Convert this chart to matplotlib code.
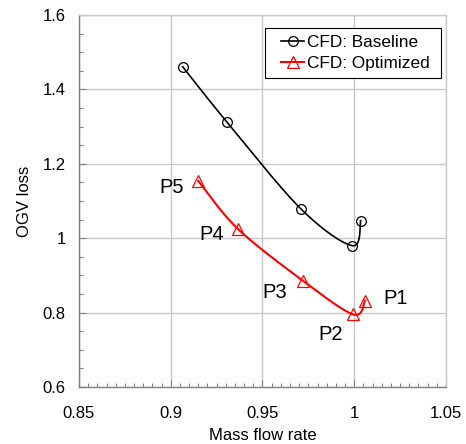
import numpy as np
import matplotlib
matplotlib.use("Agg")
import matplotlib.pyplot as plt
from matplotlib.ticker import MultipleLocator
from matplotlib.legend_handler import HandlerLine2D

plt.rcParams['font.family'] = ['Liberation Sans', 'DejaVu Sans']

base_x = [0.9065, 0.9305, 0.9711, 0.9989, 1.0035]
base_y = [1.461, 1.313, 1.078, 0.980, 1.047]
opt_x = [0.915, 0.9366, 0.9722, 0.9995, 1.0059]
opt_y = [1.154, 1.025, 0.885, 0.795, 0.832]
point_labels = ["P5", "P4", "P3", "P2", "P1"]
label_x = [0.9005, 0.9225, 0.9568, 0.9872, 1.0228]
label_y = [1.1376, 1.0086, 0.8527, 0.7398, 0.8366]


def smooth(xs, ys, n=40):
    P = np.column_stack([xs, ys]).astype(float)
    Pe = np.vstack([P[0], P, P[-1]])
    out = []
    t = np.linspace(0, 1, n)[:, None]
    for i in range(len(P) - 1):
        p0 = Pe[i + 1]
        p3 = Pe[i + 2]
        c1 = p0 + (Pe[i + 2] - Pe[i]) / 6.0
        c2 = p3 - (Pe[i + 3] - Pe[i + 1]) / 6.0
        seg = ((1 - t) ** 3) * p0 + 3 * ((1 - t) ** 2) * t * c1 + 3 * (1 - t) * t ** 2 * c2 + t ** 3 * p3
        out.append(seg)
    s = np.vstack(out)
    return s[:, 0], s[:, 1]


class OffsetHandler(HandlerLine2D):
    def __init__(self, offset, **kw):
        super().__init__(**kw)
        self.offset = offset

    def create_artists(self, legend, orig_handle, xdescent, ydescent, width, height, fontsize, trans):
        return super().create_artists(legend, orig_handle, xdescent - self.offset, ydescent,
                                      width - self.offset, height, fontsize, trans)


fig = plt.figure(figsize=(4.66, 4.44), dpi=100)
ax = fig.add_axes([0.1695, 0.1284, 0.7875, 0.8378])

sx, sy = smooth(base_x, base_y)
ax.plot(sx, sy, color='black', lw=1.2, zorder=3)
ax.plot(base_x, base_y, ls='none', marker='o', ms=7, mfc='none', mec='black', mew=0.9, zorder=4)
h1, = ax.plot([], [], color='black', lw=1.2, marker='o', ms=7, mfc='none', mec='black', mew=0.9,
              label='CFD: Baseline ')

ox, oy = smooth(opt_x, opt_y)
ax.plot(ox, oy, color='red', lw=1.5, zorder=3)
ax.plot(opt_x, opt_y, ls='none', marker='^', ms=8, mfc='none', mec='red', mew=0.9, zorder=4)
h2, = ax.plot([], [], color='red', lw=1.5, marker='^', ms=8, mfc='none', mec='red', mew=0.9,
              label='CFD: Optimized ')

for lx, ly, t in zip(label_x, label_y, point_labels):
    ax.text(lx, ly, t, fontsize=14.5, ha='center', va='center', color='black')

ax.set_xlim(0.85, 1.05)
ax.set_ylim(0.6, 1.6)
ax.xaxis.set_minor_locator(MultipleLocator(0.005))
ax.yaxis.set_minor_locator(MultipleLocator(0.05))
ax.set_xticks([0.85, 0.9, 0.95, 1.0, 1.05])
ax.set_xticklabels(['0.85', '0.9', '0.95', '1', '1.05'])
ax.set_yticks([0.6, 0.8, 1.0, 1.2, 1.4, 1.6])
ax.set_yticklabels(['0.6', '0.8', '1', '1.2', '1.4', '1.6'])
ax.grid(True, which='major', color='#c8c8c8', lw=1.0)
ax.set_axisbelow(True)
ax.tick_params(which='both', direction='in', labelsize=12, color='#808080', top=False, right=False)
ax.tick_params(which='major', length=5, width=0.8)
ax.tick_params(which='minor', length=3, width=0.8)
ax.tick_params(axis='x', which='major', pad=14)
ax.tick_params(axis='y', which='major', pad=9.5)
for s in ['left', 'bottom']:
    ax.spines[s].set_color('#808080')
    ax.spines[s].set_linewidth(1.0)
for s in ['top', 'right']:
    ax.spines[s].set_color('#c8c8c8')
    ax.spines[s].set_linewidth(1.0)

ax.set_xlabel('Mass flow rate', fontsize=12, labelpad=5)
ax.set_ylabel('OGV loss', fontsize=12, labelpad=8)

leg = ax.legend(handles=[h1, h2], loc='upper right', bbox_to_anchor=(0.9875, 0.965), fontsize=12.4,
                frameon=True, fancybox=False, edgecolor='black', framealpha=1, borderpad=0.4,
                handlelength=1.91, handletextpad=0.15, labelspacing=0.35, borderaxespad=0,
                handler_map={h1: OffsetHandler(7.1), h2: OffsetHandler(7.1)})
leg.get_frame().set_linewidth(0.8)

fig.savefig('out.png', dpi=100)
